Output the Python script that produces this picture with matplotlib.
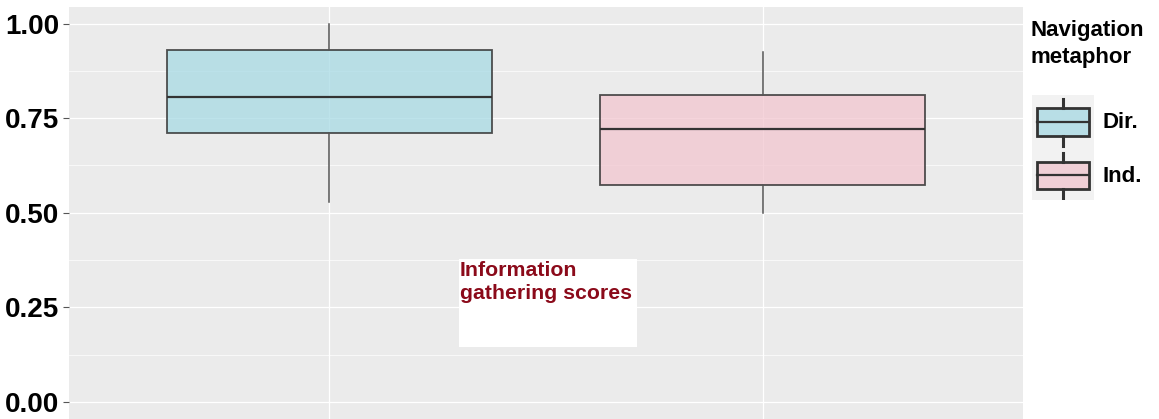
import matplotlib.pyplot as plt
import matplotlib.patches as mpatches
from matplotlib.lines import Line2D
from matplotlib.ticker import MultipleLocator

plt.rcParams['font.family'] = ['Liberation Sans', 'DejaVu Sans']

# five-number summaries per navigation metaphor
groups = ["Dir.", "Ind."]
whisker_low = [0.528, 0.499]
q1 = [0.712, 0.573]
median = [0.805, 0.720]
q3 = [0.929, 0.810]
whisker_high = [1.00, 0.926]

fills = [(0.655, 0.855, 0.894, 0.75), (0.949, 0.776, 0.812, 0.75)]
solid_fills = ["#B8DEE6", "#F0CFD6"]
edge = (0.2, 0.2, 0.2, 0.85)

fig = plt.figure(figsize=(11.59, 4.19), dpi=100)
ax = fig.add_axes([69 / 1159, 0, (1023 - 69) / 1159, 1 - 7 / 419])
ax.set_facecolor("#EBEBEB")

stats = [
    dict(label=g, whislo=lo, q1=a, med=m, q3=b, whishi=hi, fliers=[])
    for g, lo, a, m, b, hi in zip(groups, whisker_low, q1, median, q3, whisker_high)
]
bp = ax.bxp(stats, positions=[1, 2], widths=0.75, patch_artist=True,
            showcaps=False, showfliers=False,
            boxprops=dict(linewidth=1.3),
            medianprops=dict(color="#333333", linewidth=1.6),
            whiskerprops=dict(color="#555555", linewidth=1.1))
for patch, fc in zip(bp["boxes"], fills):
    patch.set_facecolor(fc)
    patch.set_edgecolor(edge)

ax.set_xlim(0.4, 2.6)
ax.set_ylim(-0.0449, 1.0436)
ax.set_yticks([0, 0.25, 0.5, 0.75, 1.0])
ax.set_yticklabels(["%.2f" % v for v in [0, 0.25, 0.5, 0.75, 1.0]],
                   fontweight="bold")
ax.yaxis.set_minor_locator(MultipleLocator(0.125))
ax.set_xticks([1, 2])
ax.set_xticklabels([])
ax.grid(which="major", color="white", linewidth=0.9)
ax.grid(which="minor", axis="y", color="white", linewidth=0.5)
ax.set_axisbelow(True)
for s in ax.spines.values():
    s.set_visible(False)
ax.tick_params(axis="y", which="major", length=4, color="#555555",
               labelsize=20, pad=3)
ax.tick_params(axis="y", which="minor", length=0)
ax.tick_params(axis="x", length=0)

# white caption box inside the panel
fig.patches.append(mpatches.Rectangle((459 / 1159, 1 - 347 / 419), 178 / 1159, 88 / 419,
                                      transform=fig.transFigure, facecolor="white",
                                      edgecolor="none", zorder=5))
fig.text(460 / 1159, 1 - 261 / 419, "Information\ngathering scores",
         color="#8B0A1A", fontsize=15.3, fontweight="bold", va="top", ha="left",
         linespacing=1.25, zorder=6)

# legend
fig.text(1030 / 1159, 1 - 20 / 419, "Navigation\nmetaphor", fontsize=16,
         fontweight="bold", va="top", ha="left", linespacing=1.35)
lax = fig.add_axes([1032 / 1159, 1 - 200 / 419, 62 / 1159, 105 / 419])
lax.set_facecolor("#F2F2F2")
lax.set_xlim(0, 62)
lax.set_ylim(200, 95)
lax.set_xticks([])
lax.set_yticks([])
for s in lax.spines.values():
    s.set_visible(False)
for fc, (top, bot) in zip(solid_fills, [(108, 136), (162, 189)]):
    mid = (top + bot) / 2
    lax.add_patch(mpatches.Rectangle((5, top), 52, bot - top, facecolor=fc,
                                     edgecolor="#333333", linewidth=2))
    lax.add_line(Line2D([5, 57], [mid, mid], color="#333333", linewidth=1.6))
    lax.add_line(Line2D([31, 31], [top - 9, top], color="#333333", linewidth=2.2))
    lax.add_line(Line2D([31, 31], [bot, bot + 10], color="#333333", linewidth=2.2))
for lbl, yy in zip(groups, [123, 176]):
    fig.text(1103 / 1159, 1 - yy / 419, lbl, fontsize=16, fontweight="bold",
             va="center", ha="left")

fig.savefig("out.png", dpi=100)
